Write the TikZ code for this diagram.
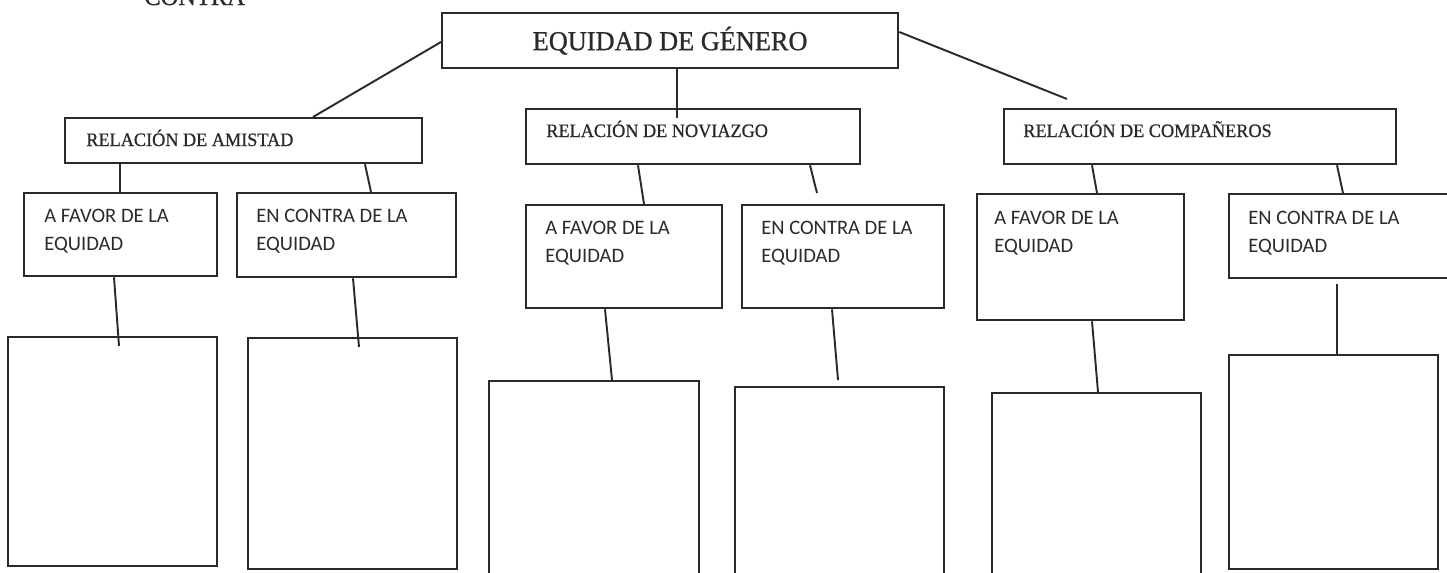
\documentclass[tikz,border=0pt]{standalone}
\usepackage{fontspec}
\setmainfont{Liberation Serif}
\newfontfamily\headfont[FakeBold=0.8,FakeStretch=0.96]{Liberation Serif}
\newfontfamily\calibrifont{Carlito}
\usepackage{tikz}
\definecolor{inkgray}{RGB}{42, 42, 42}
\usetikzlibrary{positioning,calc}

\begin{document}
\begin{tikzpicture}[
    x=0.2mm, y=-0.2mm,
    box/.style 2 args={
        rectangle,
        draw=inkgray,
        line width=1.3pt,
        anchor=north west,
        inner sep=0pt,
        minimum width=#1*0.2mm,
        minimum height=#2*0.2mm,
        text=inkgray
    },
    rel/.style={
        anchor=base west,
        inner sep=0pt,
        text=inkgray,
        font=\headfont\fontsize{10.8}{13}\selectfont
    },
    tag/.style={
        anchor=north west,
        inner sep=0pt,
        align=left,
        text=inkgray,
        font=\calibrifont\fontsize{11.7}{15.9}\selectfont
    },
    link/.style={draw=inkgray, line width=1.1pt}
]
    \useasboundingbox (0,0) rectangle (1447,572);
    \clip (0,0) rectangle (1447,572);

    % Heading
    \node[anchor=base west, inner sep=0pt, text=inkgray,
          font=\headfont\fontsize{14.5}{17}\selectfont] (contra) at (144,5) {CONTRA};
    \node[box={456}{55}, font=\headfont\fontsize{15.6}{18}\selectfont] (genero) at (441,12) {EQUIDAD DE GÉNERO};

    % Relations
    \node[box={357}{45}] (amistad) at (64,117) {};
    \node[box={334}{55}] (noviazgo) at (525,108) {};
    \node[box={392}{55}] (compan) at (1003,108) {};

    \node[rel] (tamistad) at ($(amistad.north west)+(22,29)$) {RELACIÓN DE AMISTAD};
    \node[rel] (tnoviazgo) at ($(noviazgo.north west)+(21,29)$) {RELACIÓN DE NOVIAZGO};
    \node[rel] (tcompan) at ($(compan.north west)+(20,29)$) {RELACIÓN DE COMPAÑEROS};

    % For / against
    \node[box={193}{83}] (fav1) at (23,192) {};
    \node[box={219}{84}] (con1) at (236,192) {};
    \node[box={196}{103}] (fav2) at (525,204) {};
    \node[box={202}{103}] (con2) at (741,204) {};
    \node[box={207}{126}] (fav3) at (976,193) {};
    \node[box={240}{84}] (con3) at (1228,193) {};

    \node[tag] (tfav1) at ($(fav1.north west)+(21,17)$) {A FAVOR DE LA\\EQUIDAD};
    \node[tag] (tcon1) at ($(con1.north west)+(20,17)$) {EN CONTRA DE LA\\EQUIDAD};
    \node[tag] (tfav2) at ($(fav2.north west)+(20,17)$) {A FAVOR DE LA\\EQUIDAD};
    \node[tag] (tcon2) at ($(con2.north west)+(20,17)$) {EN CONTRA DE LA\\EQUIDAD};
    \node[tag] (tfav3) at ($(fav3.north west)+(18,18)$) {A FAVOR DE LA\\EQUIDAD};
    \node[tag] (tcon3) at ($(con3.north west)+(20,18)$) {EN CONTRA DE LA\\EQUIDAD};

    % Answer boxes
    \node[box={209}{229}] (ans1) at (7,336) {};
    \node[box={209}{231}] (ans2) at (247,337) {};
    \node[box={210}{220}] (ans3) at (488,380) {};
    \node[box={209}{220}] (ans4) at (734,386) {};
    \node[box={209}{220}] (ans5) at (991,392) {};
    \node[box={209}{214}] (ans6) at (1228,354) {};

    % Lines
    \draw[link] ($(genero.north west)+(0,30)$) -- ($(amistad.north west)+(249,0)$);
    \draw[link] ($(genero.south west)+(236,0)$) -- ($(noviazgo.north west)+(152,10)$);
    \draw[link] ($(genero.north east)+(0,20)$) -- ($(compan.north west)+(64,-9)$);

    \draw[link] ($(amistad.south west)+(56,0)$) -- ($(fav1.north west)+(97,0)$);
    \draw[link] ($(amistad.south west)+(301,0)$) -- ($(con1.north west)+(135,0)$);
    \draw[link] ($(noviazgo.south west)+(113,0)$) -- ($(fav2.north west)+(119,0)$);
    \draw[link] ($(noviazgo.south west)+(285,0)$) -- ($(con2.north west)+(76,-11)$);
    \draw[link] ($(compan.south west)+(89,0)$) -- ($(fav3.north west)+(121,0)$);
    \draw[link] ($(compan.south west)+(334,0)$) -- ($(con3.north west)+(115,0)$);

    \draw[link] ($(fav1.south west)+(91,0)$) -- ($(ans1.north west)+(112,10)$);
    \draw[link] ($(con1.south west)+(117,0)$) -- ($(ans2.north west)+(112,10)$);
    \draw[link] ($(fav2.south west)+(80,0)$) -- ($(ans3.north west)+(124,0)$);
    \draw[link] ($(con2.south west)+(91,0)$) -- ($(ans4.north west)+(104,-6)$);
    \draw[link] ($(fav3.south west)+(116,0)$) -- ($(ans5.north west)+(107,0)$);
    \draw[link] ($(con3.south west)+(109,5)$) -- ($(ans6.north west)+(109,0)$);
\end{tikzpicture}
\end{document}
